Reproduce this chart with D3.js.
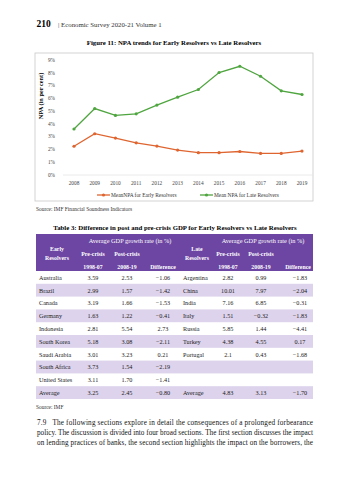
<!DOCTYPE html>
<html>
<head>
<meta charset="utf-8">
<script src="https://cdn.jsdelivr.net/npm/d3@7"></script>
<style>
  body { margin: 0; background: #fff; }
  svg text { font-family: "Liberation Serif", "DejaVu Serif", serif; }
</style>
</head>
<body>
<div id="page"></div>
<script>
// chart data
const years = ["2008","2009","2010","2011","2012","2013","2014","2015","2016","2017","2018","2019"];
const earlyNPA = [2.25, 3.23, 2.89, 2.52, 2.26, 1.95, 1.75, 1.75, 1.84, 1.69, 1.69, 1.87];
const lateNPA = [3.6, 5.2, 4.66, 4.79, 5.47, 6.09, 6.69, 8.02, 8.51, 7.73, 6.59, 6.3];
const yTicks = [0, 1, 2, 3, 4, 5, 6, 7, 8, 9];
const seriesNames = ["MeanNPA for Early Resolvers", "Mean NPA for Late Resolvers"];

// table data
const earlyCountries = ["Australia","Brazil","Canada","Germany","Indonesia","South Korea","Saudi Arabia","South Africa","United States","Average"];
const earlyPre = ["3.59","2.99","3.19","1.63","2.81","5.18","3.01","3.73","3.11","3.25"];
const earlyPost = ["2.53","1.57","1.66","1.22","5.54","3.08","3.23","1.54","1.70","2.45"];
const earlyDiff = ["\u22121.06","\u22121.42","\u22121.53","\u22120.41","2.73","\u22122.11","0.21","\u22122.19","\u22121.41","\u22120.80"];
const lateCountries = ["Argentina","China","India","Italy","Russia","Turkey","Portugal","","","Average"];
const latePre = ["2.82","10.01","7.16","1.51","5.85","4.38","2.1","","","4.83"];
const latePost = ["0.99","7.97","6.85","\u22120.32","1.44","4.55","0.43","","","3.13"];
const lateDiff = ["\u22121.83","\u22122.04","\u22120.31","\u22121.83","\u22124.41","0.17","\u22121.68","","","\u22121.70"];

const paragraph = [
  "7.9\u00a0\u00a0\u00a0The following sections explore in detail the consequences of a prolonged forbearance",
  "policy. The discussion is divided into four broad sections. The first section discusses the impact",
  "on lending practices of banks, the second section highlights the impact on the borrowers, the"
];

const W = 349, H = 480;
const svg = d3.select("#page").append("svg").attr("width", W).attr("height", H);

// page header
svg.append("text").attr("x", 36.5).attr("y", 27).style("font-size", "9.5px").style("font-weight", "bold").text("210");
svg.append("text").attr("x", 58).attr("y", 26.5).style("font-size", "6.8px").attr("fill", "#333")
  .text("|  Economic Survey 2020-21   Volume 1");

// figure title
svg.append("text").attr("x", 174).attr("y", 45).attr("text-anchor", "middle")
  .style("font-size", "6.8px").style("font-weight", "bold").text("Figure 11: NPA trends for Early Resolvers vs Late Resolvers");

// chart frame
svg.append("rect").attr("x", 35).attr("y", 53).attr("width", 278).attr("height", 148)
  .attr("fill", "none").attr("stroke", "#c8c8c8").attr("stroke-width", 0.8);

const x = d3.scalePoint().domain(years).range([74, 302]);
const y = d3.scaleLinear().domain([0, 9]).range([175, 60]);

const g = svg.append("g");

// baseline
g.append("line").attr("x1", 63).attr("x2", 313).attr("y1", y(0)).attr("y2", y(0))
  .attr("stroke", "#e4e4e4").attr("stroke-width", 0.8);

// y axis labels
g.selectAll(".ytick").data(yTicks).enter().append("text")
  .attr("x", 55).attr("y", d => y(d) + 1.8).attr("text-anchor", "end")
  .style("font-size", "5.3px").attr("fill", "#444").text(d => d + "%");

// x axis labels
g.selectAll(".xtick").data(years).enter().append("text")
  .attr("x", d => x(d)).attr("y", 185).attr("text-anchor", "middle")
  .style("font-size", "5.3px").attr("fill", "#444").text(d => d);

// y title
svg.append("text").attr("transform", "translate(43,96) rotate(-90)").attr("text-anchor", "middle")
  .style("font-size", "6.3px").style("font-weight", "bold").text("NPA (in per cent)");

const colors = ["#df6530", "#4fa53f"];
const series = [earlyNPA, lateNPA];
const line = d3.line().x((d, i) => x(years[i])).y(d => y(d));

series.forEach(function (vals, k) {
  g.append("path").datum(vals).attr("fill", "none").attr("stroke", colors[k])
    .attr("stroke-width", 1.3).attr("d", line);
  g.selectAll(".pt" + k).data(vals).enter().append("circle")
    .attr("cx", (d, i) => x(years[i])).attr("cy", d => y(d)).attr("r", 1.6).attr("fill", colors[k]);
});

// legend
const legendX = [97, 200];
seriesNames.forEach(function (name, k) {
  const lg = svg.append("g");
  lg.append("line").attr("x1", legendX[k]).attr("x2", legendX[k] + 13).attr("y1", 195).attr("y2", 195)
    .attr("stroke", colors[k]).attr("stroke-width", 1.3);
  lg.append("circle").attr("cx", legendX[k] + 6.5).attr("cy", 195).attr("r", 1.6).attr("fill", colors[k]);
  lg.append("text").attr("x", legendX[k] + 14).attr("y", 197).style("font-size", "5.4px").attr("fill", "#333").text(name);
});

svg.append("text").attr("x", 36).attr("y", 211).style("font-size", "5.4px").attr("fill", "#333")
  .text("Source: IMF Financial Soundness Indicators");

// table title
svg.append("text").attr("x", 175).attr("y", 229.5).attr("text-anchor", "middle")
  .style("font-size", "6.8px").style("font-weight", "bold")
  .text("Table 3: Difference in post and pre-crisis GDP for Early Resolvers vs Late Resolvers");

const tLeft = 36, tRight = 313, headTop = 234, headBottom = 271, rowH = 12.8;
const purple = "#6d45a3", lavender = "#ddd3ec";

svg.append("rect").attr("x", tLeft).attr("y", headTop).attr("width", tRight - tLeft).attr("height", headBottom - headTop).attr("fill", purple);

const head = svg.append("g").attr("fill", "#fff").style("font-size", "5.8px").style("font-weight", "bold").attr("text-anchor", "middle");
head.append("text").attr("x", 130).attr("y", 242.5).style("font-weight", "normal").style("font-size", "6.3px").text("Average GDP growth rate (in %)");
head.append("text").attr("x", 263).attr("y", 242.5).style("font-weight", "normal").style("font-size", "6.3px").text("Average GDP growth rate (in %)");
[[57, "Early"], [57, "Resolvers"], [197, "Late"], [197, "Resolvers"]].forEach(function (d, i) {
  head.append("text").attr("x", d[0]).attr("y", i % 2 === 0 ? 251 : 259.5).text(d[1]);
});
const colX = [93, 127, 163, 228, 261, 298];
const sub1 = ["Pre-crisis", "Post-crisis", "", "Pre-crisis", "Post-crisis", ""];
const sub2 = ["1998-07", "2008-19", "Difference", "1998-07", "2008-19", "Difference"];
colX.forEach(function (cx, i) {
  head.append("text").attr("x", cx).attr("y", 256.3).text(sub1[i]);
  head.append("text").attr("x", cx).attr("y", 268.6).text(sub2[i]);
});

const rows = d3.range(earlyCountries.length);
const body = svg.append("g").style("font-size", "6.2px").attr("fill", "#222");
body.selectAll(".band").data(rows.filter(i => i % 2 === 1)).enter().append("rect")
  .attr("x", tLeft).attr("y", i => headBottom + i * rowH).attr("width", tRight - tLeft).attr("height", rowH)
  .attr("fill", lavender);

rows.forEach(function (i) {
  const ty = headBottom + i * rowH + 8.8;
  body.append("text").attr("x", 39).attr("y", ty).text(earlyCountries[i]);
  body.append("text").attr("x", 183).attr("y", ty).text(lateCountries[i]);
  const cells = [earlyPre[i], earlyPost[i], earlyDiff[i], latePre[i], latePost[i], lateDiff[i]];
  cells.forEach(function (c, j) {
    body.append("text").attr("x", colX[j] + (j === 5 ? 2 : 0)).attr("y", ty).attr("text-anchor", "middle").text(c);
  });
});

svg.append("text").attr("x", 36).attr("y", 408.5).style("font-size", "5.4px").attr("fill", "#333").text("Source: IMF");

// body paragraph (justified lines)
paragraph.forEach(function (t, i) {
  svg.append("text").attr("x", 37).attr("y", 425 + i * 10).style("font-size", "7.2px").attr("fill", "#111")
    .attr("textLength", 276).attr("lengthAdjust", "spacing").text(t);
});
</script>
</body>
</html>
